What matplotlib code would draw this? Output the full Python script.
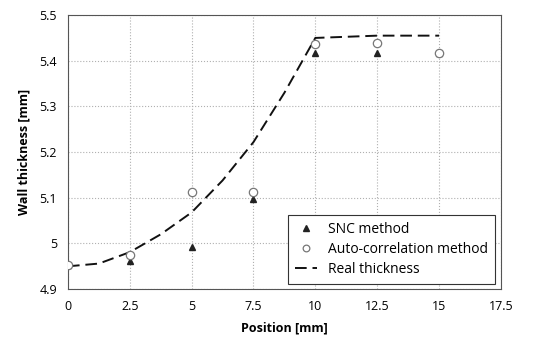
import matplotlib.pyplot as plt

# measured points
position = [0, 2.5, 5, 7.5, 10, 12.5, 15]
snc = [4.953, 4.961, 4.993, 5.097, 5.416, 5.416, 5.418]
auto_corr = [4.953, 4.974, 5.112, 5.112, 5.436, 5.438, 5.418]

# real thickness profile
real_x = [0, 1.25, 2.5, 3.75, 5, 6.25, 7.5, 8.75, 10, 12.5, 15]
real_y = [4.950, 4.956, 4.981, 5.020, 5.068, 5.138, 5.222, 5.330, 5.450, 5.455, 5.455]

plt.rcParams['font.family'] = ['Open Sans', 'DejaVu Sans']

fig, ax = plt.subplots(figsize=(5.48, 3.43), dpi=100)
fig.subplots_adjust(left=0.124, right=0.914, top=0.956, bottom=0.157)

ax.plot(position, snc, linestyle='none', marker='^', markersize=5,
        color='#222222', label='SNC method', zorder=3)
ax.plot(position, auto_corr, linestyle='none', marker='o', markersize=6,
        markerfacecolor='white', markeredgecolor='#777777', markeredgewidth=0.9,
        label='Auto-correlation method', zorder=4)
ax.plot(real_x, real_y, linestyle=(0, (6, 3)), color='#111111', linewidth=1.4,
        label='Real thickness', zorder=2)

ax.set_xlim(0, 17.5)
ax.set_ylim(4.9, 5.5)
ax.set_xticks([0, 2.5, 5, 7.5, 10, 12.5, 15, 17.5])
ax.set_xticklabels(['0', '2.5', '5', '7.5', '10', '12.5', '15', '17.5'])
ax.set_yticks([4.9, 5.0, 5.1, 5.2, 5.3, 5.4, 5.5])
ax.set_yticklabels(['4.9', '5', '5.1', '5.2', '5.3', '5.4', '5.5'])
ax.tick_params(labelsize=9, length=0, pad=8)

ax.grid(True, color='#b0b0b0', linestyle=':', linewidth=0.8)
ax.set_axisbelow(True)
for s in ax.spines.values():
    s.set_color('#555555')
    s.set_linewidth(0.8)

ax.set_xlabel('Position [mm]', fontsize=9, fontweight='bold', labelpad=6)
ax.set_ylabel('Wall thickness [mm]', fontsize=9, fontweight='bold', labelpad=6)

leg = ax.legend(loc='lower right', fontsize=10, fancybox=False, framealpha=1,
                edgecolor='#333333', borderpad=0.5, labelspacing=0.35,
                handlelength=1.6, markerscale=0.8, borderaxespad=0.4)
leg.get_frame().set_linewidth(0.8)

plt.savefig('out.png', dpi=100)
